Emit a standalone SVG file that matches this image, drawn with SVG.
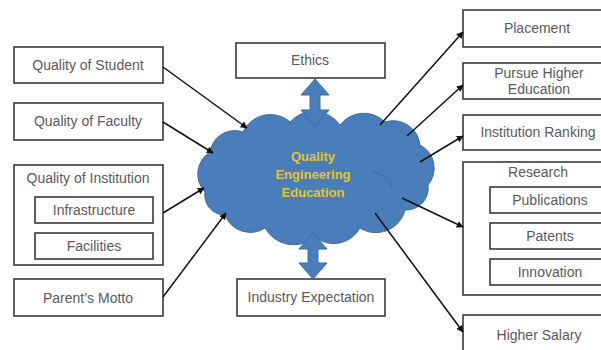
<svg xmlns="http://www.w3.org/2000/svg" width="601" height="350" viewBox="0 0 601 350">
<defs>
<style>
.box{fill:#fff;stroke:#3a3a3a;stroke-width:1.6}
.t{font-family:"Liberation Sans",Arial,sans-serif;font-size:14px;fill:#5a5a5a;text-anchor:middle}
.c{font-family:"Liberation Sans",Arial,sans-serif;font-size:13px;font-weight:bold;fill:#E3C23C;text-anchor:middle}
.ln{stroke:#111;stroke-width:1.5;fill:none;marker-end:url(#ah)}
.blk{fill:#4A7EBB;stroke:#3D6CA3;stroke-width:1}
</style>
<marker id="ah" viewBox="0 0 10 10" refX="9" refY="5" markerWidth="7" markerHeight="7" markerUnits="userSpaceOnUse" orient="auto">
<path d="M0,0 L10,5 L0,10 z" fill="#111"/>
</marker>
</defs>
<rect width="601" height="350" fill="#fff"/>
<g id="cloud">
<path class="blk" d="M205,192 A26,26 0 0 1 210,152 A25,25 0 0 1 243,132 A30,30 0 0 1 290,122 A32,32 0 0 1 340,125 A30,30 0 0 1 385,122 A27,27 0 0 1 420,145 A26,26 0 0 1 428,185 A22,22 0 0 1 405,210 A30,30 0 0 1 360,228 A30,30 0 0 1 315,237 A33,33 0 0 1 265,228 A27,27 0 0 1 225,215 A20,20 0 0 1 205,192 z" stroke-width="1.5"/>
<path d="M372,172 A22,22 0 0 1 392,188" fill="none" stroke="#3D6CA3" stroke-width="1"/>
<text class="c" x="313" y="161">Quality</text>
<text class="c" x="313" y="179">Engineering</text>
<text class="c" x="313" y="197">Education</text>
</g>
<g id="ethics">
<rect class="box" x="236" y="43" width="149" height="35"/>
<text class="t" x="310" y="65">Ethics</text>
</g>
<g id="industry">
<rect class="box" x="237" y="279" width="148" height="37"/>
<text class="t" x="311" y="302">Industry Expectation</text>
</g>
<g id="student">
<rect class="box" x="14" y="47" width="149" height="36"/>
<text class="t" x="88" y="70">Quality of Student</text>
</g>
<g id="faculty">
<rect class="box" x="14" y="103" width="149" height="37"/>
<text class="t" x="88" y="126">Quality of Faculty</text>
</g>
<g id="institution">
<rect class="box" x="14" y="165" width="149" height="100"/>
<text class="t" x="88" y="183">Quality of Institution</text>
<g id="infrastructure">
<rect class="box" x="35" y="197" width="118" height="26"/>
<text class="t" x="94" y="215">Infrastructure</text>
</g>
<g id="facilities">
<rect class="box" x="35" y="233" width="118" height="26"/>
<text class="t" x="94" y="251">Facilities</text>
</g>
</g>
<g id="motto">
<rect class="box" x="14" y="279" width="149" height="37"/>
<text class="t" x="88" y="303">Parent’s Motto</text>
</g>
<g id="placement">
<rect class="box" x="463" y="10" width="150" height="37"/>
<text class="t" x="537" y="33">Placement</text>
</g>
<g id="pursue">
<rect class="box" x="463" y="63" width="150" height="36"/>
<text class="t" x="539" y="78">Pursue Higher</text>
<text class="t" x="539" y="94">Education</text>
</g>
<g id="ranking">
<rect class="box" x="463" y="115" width="150" height="35"/>
<text class="t" x="538" y="137">Institution Ranking</text>
</g>
<g id="research">
<rect class="box" x="463" y="162" width="150" height="133"/>
<text class="t" x="538" y="177">Research</text>
<g id="publications">
<rect class="box" x="490" y="187" width="120" height="26"/>
<text class="t" x="550" y="205">Publications</text>
</g>
<g id="patents">
<rect class="box" x="490" y="223" width="120" height="26"/>
<text class="t" x="550" y="241">Patents</text>
</g>
<g id="innovation">
<rect class="box" x="490" y="259" width="120" height="26"/>
<text class="t" x="550" y="277">Innovation</text>
</g>
</g>
<g id="salary">
<rect class="box" x="463" y="315" width="150" height="40"/>
<text class="t" x="539" y="340">Higher Salary</text>
</g>
<g id="connectors">
<line class="ln" x1="163" y1="67" x2="247" y2="128"/>
<line class="ln" x1="163" y1="122" x2="213" y2="153"/>
<line class="ln" x1="163" y1="213" x2="204" y2="188"/>
<line class="ln" x1="163" y1="297" x2="226" y2="213"/>
<line class="ln" x1="380" y1="125" x2="463" y2="32"/>
<line class="ln" x1="407" y1="136" x2="463" y2="85"/>
<line class="ln" x1="420" y1="162" x2="463" y2="136"/>
<line class="ln" x1="402" y1="198" x2="463" y2="227"/>
<line class="ln" x1="375" y1="213" x2="463" y2="332"/>
<path class="blk" d="M315,79 L329,95 L320,95 L320,110 L329,110 L315,127 L301,110 L310,110 L310,95 L301,95 z"/>
<path class="blk" d="M313,233 L327,249 L318,249 L318,263 L327,263 L313,279 L299,263 L308,263 L308,249 L299,249 z"/>
</g>
</svg>
